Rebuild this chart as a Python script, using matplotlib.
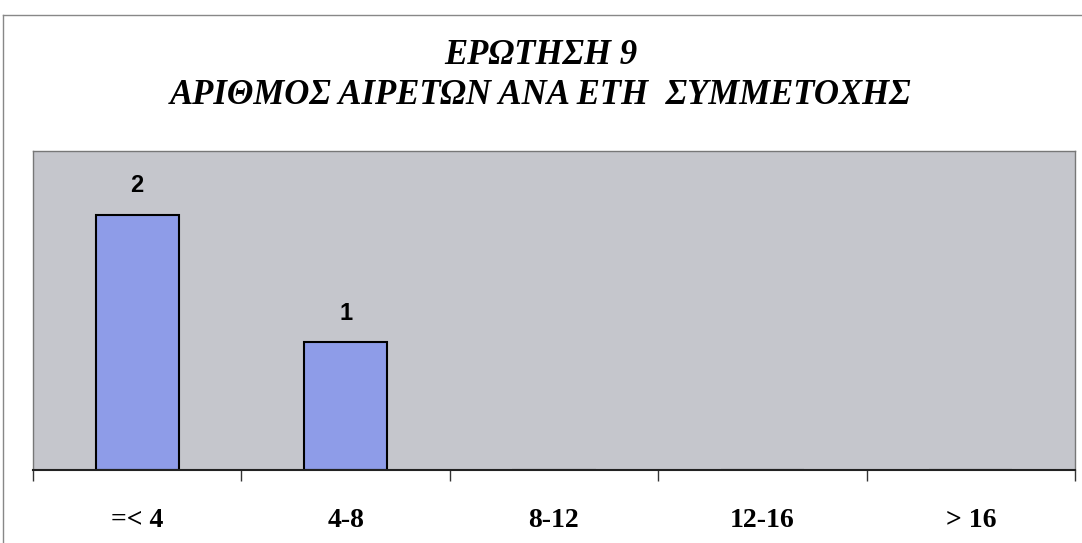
import matplotlib.pyplot as plt
import numpy as np

# data
categories = ['=< 4', '4-8', '8-12', '12-16', '> 16']
counts = [2, 1, 0, 0, 0]
title_lines = ['ΕΡΩΤΗΣΗ 9', 'ΑΡΙΘΜΟΣ ΑΙΡΕΤΩΝ ΑΝΑ ΕΤΗ  ΣΥΜΜΕΤΟΧΗΣ']

fig = plt.figure(figsize=(10.82, 5.43), dpi=100)
ax = fig.add_axes([0.0305, 0.1344, 0.963, 0.5875])

x = np.arange(len(categories))
ax.set_facecolor('#c5c6cc')
bars = ax.bar(x, counts, width=0.4, color='#8e9ce8', edgecolor='black', linewidth=1.5)

# value labels only for non-zero bars
for xi, v in zip(x, counts):
    if v > 0:
        ax.text(xi, v + 0.14, str(v), ha='center', va='bottom',
                fontsize=17, fontweight='bold', family='Liberation Sans')

ax.set_xlim(-0.5, len(categories) - 0.5)
ax.set_ylim(0, 2.5)
ax.set_yticks([])

# ticks between categories, labels centred under them
ax.set_xticks(np.arange(len(categories) + 1) - 0.5)
ax.set_xticklabels([])
ax.tick_params(axis='x', which='major', direction='out', length=8, width=1, color='#333333')
ax.set_xticks(x, minor=True)
ax.set_xticklabels(categories, minor=True, fontsize=20, fontweight='bold',
                   family='Liberation Serif')
ax.tick_params(axis='x', which='minor', length=0, pad=27)

for side in ['top', 'left', 'right']:
    ax.spines[side].set_color('#777777')
    ax.spines[side].set_linewidth(1)
ax.spines['bottom'].set_color('#222222')
ax.spines['bottom'].set_linewidth(1.5)

fig.text(0.5, 1 - 56 / 543, title_lines[0], ha='center', va='center', fontsize=25,
         fontweight='bold', fontstyle='italic', family='Liberation Serif')
fig.text(0.5, 1 - 95 / 543, title_lines[1], ha='center', va='center', fontsize=25,
         fontweight='bold', fontstyle='italic', family='Liberation Serif')

# thin page frame seen on the left and top of the scan
fig.add_artist(plt.Line2D([3 / 1082, 3 / 1082], [0.0, 1 - 15 / 543], color='#888888', lw=1))
fig.add_artist(plt.Line2D([3 / 1082, 1.0], [1 - 15 / 543, 1 - 15 / 543], color='#888888', lw=1))

fig.savefig('out.png', dpi=100)
